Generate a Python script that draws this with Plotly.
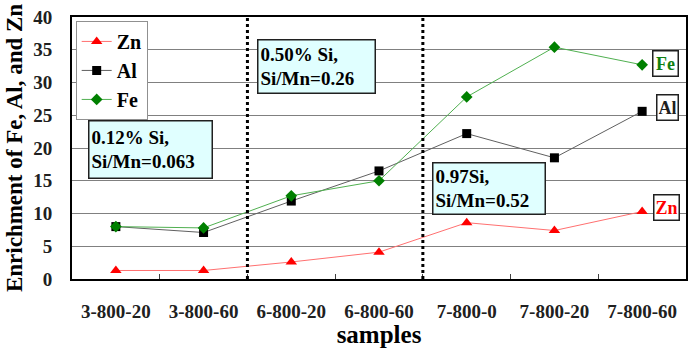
import plotly.graph_objects as go

samples = ["3-800-20", "3-800-60", "6-800-20", "6-800-60", "7-800-0", "7-800-20", "7-800-60"]
zn = [1.3, 1.3, 2.6, 4.1, 8.6, 7.4, 10.3]
al = [8.0, 7.1, 11.9, 16.5, 22.2, 18.5, 25.6]
fe = [8.0, 7.8, 12.7, 15.0, 27.8, 35.4, 32.7]
group_bounds = [1.5, 3.5]

FONT = "Liberation Serif"

fig = go.Figure()
fig.add_trace(go.Scatter(x=samples, y=zn, name="<b>Zn</b>", mode="lines+markers",
                         line=dict(color="#ff7070", width=1),
                         marker=dict(symbol="triangle-up", size=10, color="#ff0000")))
fig.add_trace(go.Scatter(x=samples, y=al, name="<b>Al</b>", mode="lines+markers",
                         line=dict(color="#606060", width=1),
                         marker=dict(symbol="square", size=9, color="#000000")))
fig.add_trace(go.Scatter(x=samples, y=fe, name="<b>Fe</b>", mode="lines+markers",
                         line=dict(color="#50b050", width=1),
                         marker=dict(symbol="diamond", size=9, color="#008000")))

for b in group_bounds:
    fig.add_shape(type="line", x0=b, x1=b, y0=0, y1=1, yref="paper", xref="x",
                  line=dict(color="black", width=3, dash="dot"))

box_style = dict(xref="paper", yref="paper", showarrow=False, align="left",
                 xanchor="center", yanchor="middle",
                 bgcolor="#e0ffff", bordercolor="#202020", borderwidth=1.5, borderpad=2,
                 font=dict(family=FONT, size=19, color="black"))
fig.add_annotation(x=0.1274, y=0.4925, text="<b>0.12% Si,<br>Si/Mn=0.063</b>",
                   width=118, height=52, **box_style)
fig.add_annotation(x=0.3985, y=0.811, text="<b>0.50% Si,<br>Si/Mn=0.26</b>",
                   width=112, height=48, **box_style)
fig.add_annotation(x=0.6786, y=0.3464, text="<b>0.97Si,<br>Si/Mn=0.52</b>",
                   width=107, height=46, **box_style)

lab_style = dict(xref="paper", yref="paper", showarrow=False, bgcolor="white",
                 xanchor="center", yanchor="middle",
                 bordercolor="#202020", borderwidth=1.5, borderpad=1)
fig.add_annotation(x=0.9668, y=0.824, text="<b>Fe</b>", width=22, height=22,
                   font=dict(family=FONT, size=18, color="#108010"), **lab_style)
fig.add_annotation(x=0.970, y=0.654, text="<b>Al</b>", width=18, height=22,
                   font=dict(family=FONT, size=18, color="#202020"), **lab_style)
fig.add_annotation(x=0.9683, y=0.2734, text="<b>Zn</b>", width=22, height=22,
                   font=dict(family=FONT, size=18, color="#ff0000"), **lab_style)

fig.update_layout(
    width=695, height=348,
    margin=dict(l=72, r=7, t=12, b=69),
    paper_bgcolor="white", plot_bgcolor="white",
    font=dict(family=FONT, color="black"),
    legend=dict(x=0.006, y=0.985, xanchor="left", yanchor="top",
                bordercolor="#909090", borderwidth=1, bgcolor="white",
                font=dict(family=FONT, size=20, color="black"),
                tracegroupgap=0, itemwidth=30),
    xaxis=dict(type="category", range=[-0.5, 6.5], showgrid=False,
               tickson="boundaries", ticks="inside", ticklen=5, tickcolor="#404040",
               showline=True, linecolor="black", linewidth=2, mirror=True,
               tickfont=dict(family=FONT, size=19, color="#202020"),
               ticklabelstandoff=14,
               tickprefix="<b>", ticksuffix="</b>",
               title=dict(text="<b>samples</b>", font=dict(family=FONT, size=25, color="black"),
                          standoff=0)),
    yaxis=dict(range=[0, 40], dtick=5, showgrid=True, gridcolor="#808080", gridwidth=1,
               ticks="", showline=True, linecolor="black", linewidth=2, mirror=True,
               zeroline=False,
               tickfont=dict(family=FONT, size=19, color="#202020"),
               ticklabelstandoff=14,
               tickprefix="<b>", ticksuffix="</b>",
               title=dict(text="<b>Enrichment of Fe, Al, and Zn</b>",
                          font=dict(family=FONT, size=23, color="black"), standoff=4)),
)

fig.write_html("out.html")
